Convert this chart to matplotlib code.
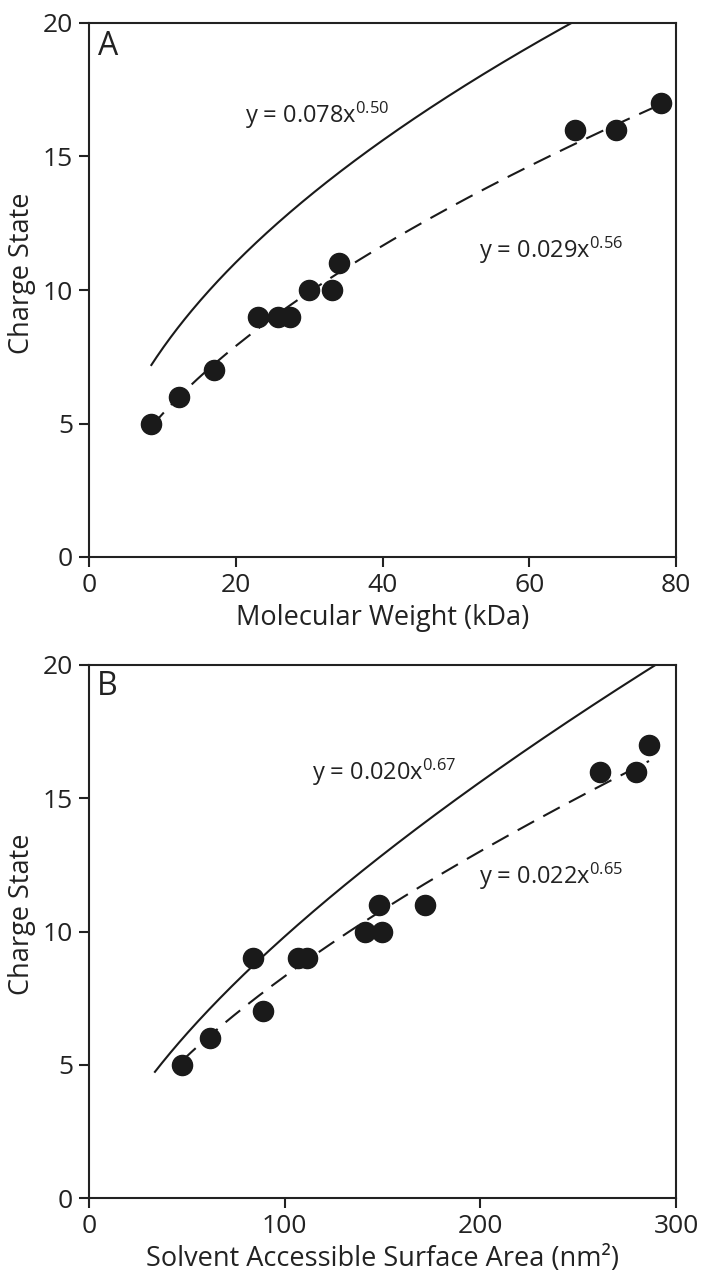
import numpy as np
import matplotlib
matplotlib.use("Agg")
import matplotlib.pyplot as plt

plt.rcParams['font.family'] = ['Open Sans', 'DejaVu Sans']
plt.rcParams['mathtext.fontset'] = 'custom'
plt.rcParams['mathtext.rm'] = 'Open Sans'
plt.rcParams['mathtext.it'] = 'Open Sans'
plt.rcParams['mathtext.bf'] = 'Open Sans'

# ---- Data ----
mw_kda = [8.5, 12.3, 17.0, 23.1, 25.7, 27.4, 30.0, 33.1, 34.1, 66.3, 71.8, 78.0]
charge_a = [5, 6, 7, 9, 9, 9, 10, 10, 11, 16, 16, 17]

sasa_nm2 = [47.5, 61.8, 84.0, 88.9, 106.8, 111.3, 141.0, 149.5, 148.2, 171.7, 261.4, 279.8, 286.2]
charge_b = [5, 6, 9, 7, 9, 9, 10, 10, 11, 11, 16, 16, 17]

# reference-model curves (as drawn)
model_a = (0.078, 0.50)   # y = a * (MW in Da)^b
model_b = (0.0205, 0.67)  # y = a * (SASA in A^2)^b
fit_a_label = ('0.029', '0.56')
fit_b_label = ('0.022', '0.65')
model_a_label = ('0.078', '0.50')
model_b_label = ('0.020', '0.67')
model_a_start = 8.5
model_b_start = 33.7

W, H = 705, 1275
fig = plt.figure(figsize=(W / 100, H / 100), dpi=100)
fig.patch.set_facecolor('white')

axA = fig.add_axes([89 / W, 1 - 557 / H, 587 / W, 534 / H])
axB = fig.add_axes([89 / W, 1 - 1198 / H, 587 / W, 533 / H])

tick_fs = 19
label_fs = 19.5
eq_fs = 17
dash = (0, (9, 5))
ink = '#1a1a1a'


def style(ax):
    for s in ax.spines.values():
        s.set_linewidth(1.5)
        s.set_color('#222222')
    ax.tick_params(direction='out', length=7.5, width=1.5, labelsize=tick_fs,
                   colors='#222222', pad=4, top=False, right=False)
    ax.set_ylim(0, 20)
    ax.set_yticks([0, 5, 10, 15, 20])


def powerfit(x, y):
    b, loga = np.polyfit(np.log(x), np.log(y), 1)
    return np.exp(loga), b


def eq(coef, expo):
    return r'y = %sx$^{%s}$' % (coef, expo)


# ---- Panel A ----
style(axA)
axA.set_xlim(0, 80)
axA.set_xticks([0, 20, 40, 60, 80])
xa = np.linspace(model_a_start, 80, 300)
axA.plot(xa, model_a[0] * (xa * 1000) ** model_a[1], color=ink, lw=1.5)
a_fit, b_fit = powerfit(mw_kda, charge_a)
xf = np.linspace(min(mw_kda), max(mw_kda), 300)
axA.plot(xf, a_fit * xf ** b_fit, color=ink, lw=1.5, linestyle=dash)
axA.plot(mw_kda, charge_a, 'o', color=ink, ms=14.5, mec=ink)
axA.text(0.015, 0.940, 'A', transform=axA.transAxes, fontsize=23, color='#222222')
axA.text(21.3, 16.25, eq(*model_a_label), fontsize=eq_fs, color='#222222')
axA.text(53.2, 11.2, eq(*fit_a_label), fontsize=eq_fs, color='#222222')
axA.set_xlabel('Molecular Weight (kDa)', fontsize=label_fs, color='#222222')
axA.set_ylabel('Charge State', fontsize=label_fs, color='#222222')
axA.yaxis.set_label_coords(-0.114, 0.531)
axA.yaxis.label.set_va('center')
axA.xaxis.set_label_coords(0.5, -0.115)
axA.xaxis.label.set_va('center')

# ---- Panel B ----
style(axB)
axB.set_xlim(0, 300)
axB.set_xticks([0, 100, 200, 300])
xb = np.linspace(model_b_start, 300, 300)
axB.plot(xb, model_b[0] * (xb * 100) ** model_b[1], color=ink, lw=1.5)
a_fb, b_fb = powerfit(sasa_nm2, charge_b)
xfb = np.linspace(min(sasa_nm2), max(sasa_nm2), 300)
axB.plot(xfb, a_fb * xfb ** b_fb, color=ink, lw=1.5, linestyle=dash)
axB.plot(sasa_nm2, charge_b, 'o', color=ink, ms=14.5, mec=ink)
axB.text(0.014, 0.944, 'B', transform=axB.transAxes, fontsize=23, color='#222222')
axB.text(113.8, 15.7, eq(*model_b_label), fontsize=eq_fs, color='#222222')
axB.text(199.3, 11.8, eq(*fit_b_label), fontsize=eq_fs, color='#222222')
axB.set_xlabel('Solvent Accessible Surface Area (nm²)', fontsize=label_fs, color='#222222')
axB.set_ylabel('Charge State', fontsize=label_fs, color='#222222')
axB.yaxis.set_label_coords(-0.114, 0.533)
axB.yaxis.label.set_va('center')
axB.xaxis.set_label_coords(0.5, -0.115)
axB.xaxis.label.set_va('center')

fig.savefig('out.png', dpi=100, facecolor='white')
